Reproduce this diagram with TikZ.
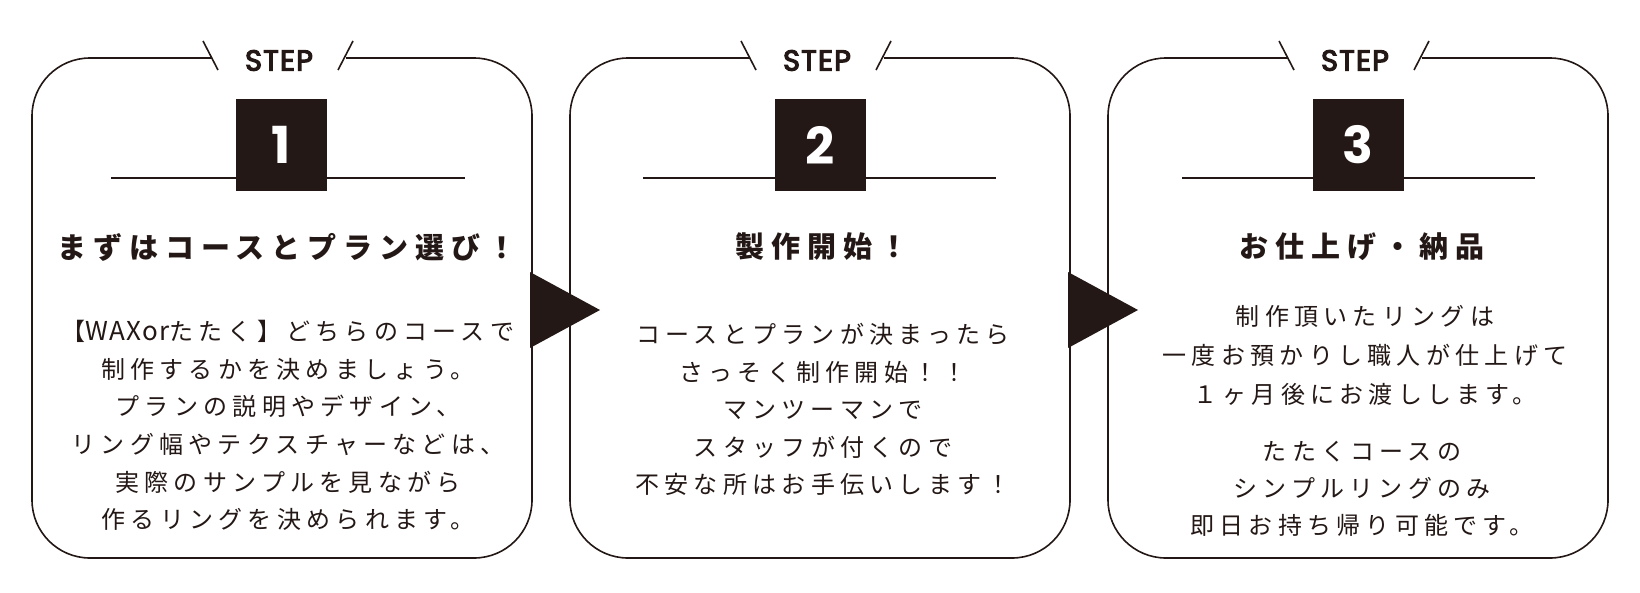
\documentclass[tikz,border=0pt]{standalone}
\usepackage{fontspec}
\newfontfamily\jpbody{Noto Sans CJK JP}[LetterSpace=22]
\newfontfamily\jpplain{Noto Sans CJK JP}[LetterSpace=4]
\newfontfamily\jptitle{Noto Sans CJK JP}[LetterSpace=24]
\newfontfamily\stepfont{Poppins}[LetterSpace=4, FakeBold=4]
\newfontfamily\numfont{Poppins}
\definecolor{ink}{HTML}{231815}
\tikzset{
  frame/.style={draw=ink, line width=1.6pt, rounded corners=58pt},
  rule/.style={draw=ink, line width=1.6pt},
  numbox/.style={fill=ink, minimum width=91pt, minimum height=92pt, inner sep=0pt, text=white, font=\numfont\bfseries\fontsize{51}{51}\selectfont},
  steplabel/.style={inner sep=0pt, text=ink, font=\stepfont\fontsize{29}{29}\selectfont},
  titletext/.style={inner sep=0pt, text=ink, font=\jptitle\bfseries\fontsize{29}{31}\selectfont},
  bodytext/.style={inner sep=0pt, text=ink, align=center, font=\jpbody\fontsize{24}{37.6}\selectfont},
  tri/.style={fill=ink}
}
\begin{document}
\begin{tikzpicture}[x=1pt,y=-1pt]
\useasboundingbox (0,0) rectangle (1640,592);
\fill[white] (0,0) rectangle (1640,592);

% ---------- STEP 1 ----------
\draw[frame] (212,58) -- (32,58) -- (32,558) -- (532,558) -- (532,58) -- (346,58);
\draw[rule] (203,41) -- (218,70);
\draw[rule] (353,41) -- (338,70);
\node[steplabel] (s1) at (279,60.5) {STEP};
\coordinate (l1a) at (111,178);
\coordinate (l1b) at (465,178);
\draw[rule] (l1a) -- (l1b);
\node[numbox] (n1) at (281.5,145) {1};
\node[titletext] (t1) at (287,247) {まずはコースとプラン選び！};
\node[bodytext] (b1) at (288,425.5) {【{\jpplain\fontsize{26}{37.6}\selectfont WAXor}たたく】どちらのコースで\\制作するかを決めましょう。\\プランの説明やデザイン、\\リング幅やテクスチャーなどは、\\実際のサンプルを見ながら\\作るリングを決められます。};

% ---------- STEP 2 ----------
\draw[frame] (750,58) -- (570,58) -- (570,558) -- (1070,558) -- (1070,58) -- (884,58);
\draw[rule] (741,41) -- (756,70);
\draw[rule] (891,41) -- (876,70);
\node[steplabel] (s2) at (817,60.5) {STEP};
\coordinate (l2a) at (643,178);
\coordinate (l2b) at (996,178);
\draw[rule] (l2a) -- (l2b);
\node[numbox] (n2) at (820,145) {2};
\node[titletext] (t2) at (822,247) {製作開始！};
\node[bodytext] (b2) at (823,409.5) {コースとプランが決まったら\\さっそく制作開始！！\\マンツーマンで\\スタッフが付くので\\不安な所はお手伝いします！};

% ---------- STEP 3 ----------
\draw[frame] (1288,58) -- (1108,58) -- (1108,558) -- (1608,558) -- (1608,58) -- (1422,58);
\draw[rule] (1279,41) -- (1294,70);
\draw[rule] (1429,41) -- (1414,70);
\node[steplabel] (s3) at (1355,60.5) {STEP};
\coordinate (l3a) at (1182,178);
\coordinate (l3b) at (1535,178);
\draw[rule] (l3a) -- (l3b);
\node[numbox] (n3) at (1358,145) {3};
\node[titletext] (t3) at (1362,247) {お仕上げ・納品};
\node[bodytext, font=\jpbody\fontsize{24}{39}\selectfont] (b3a) at (1365,355) {制作頂いたリングは\\一度お預かりし職人が仕上げて\\１ヶ月後にお渡しします。};
\node[bodytext, font=\jpbody\fontsize{24}{37}\selectfont] (b3b) at (1362,489) {たたくコースの\\シンプルリングのみ\\即日お持ち帰り可能です。};

% ---------- arrows between steps ----------
\fill[tri] (530,272) -- (530,348) -- (600,310) -- cycle;
\fill[tri] (1068,272) -- (1068,348) -- (1138,310) -- cycle;
\end{tikzpicture}
\end{document}
